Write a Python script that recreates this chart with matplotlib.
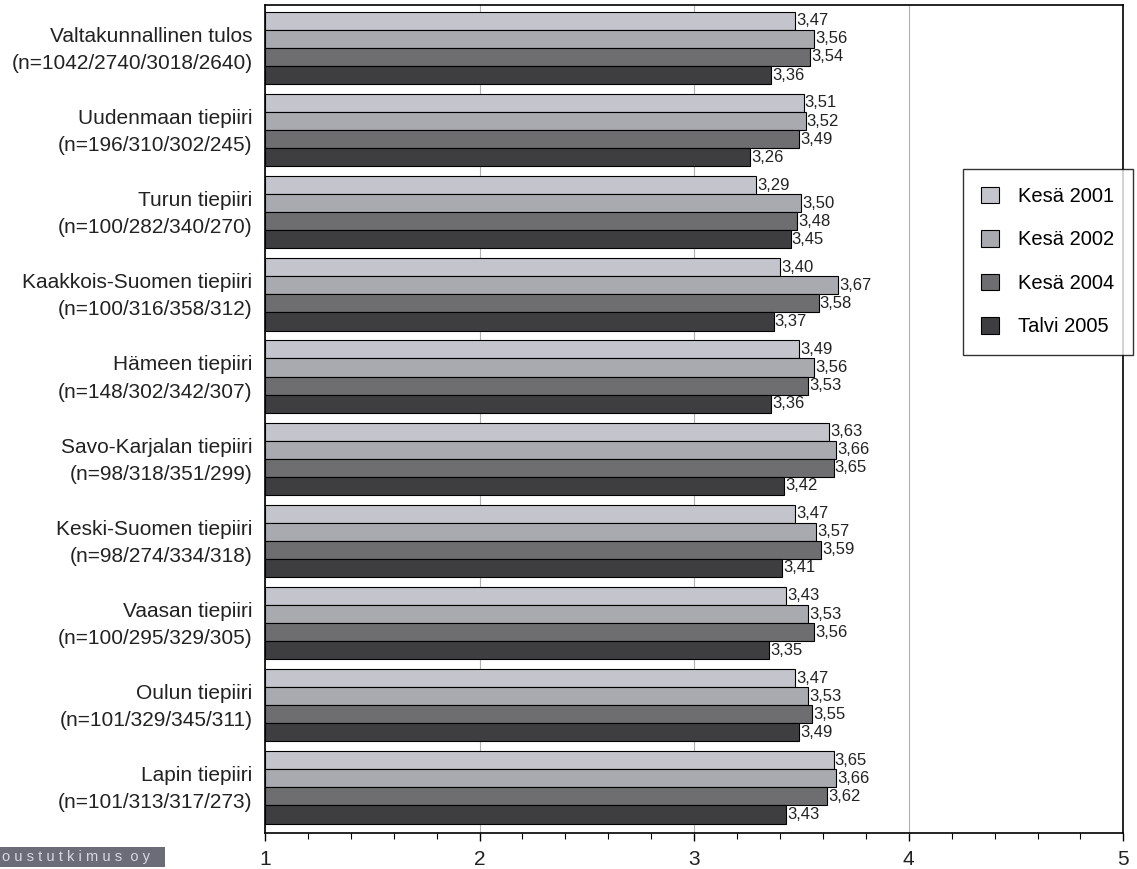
import matplotlib.pyplot as plt
import numpy as np
from matplotlib.ticker import MultipleLocator
from matplotlib.patches import Rectangle
from matplotlib.transforms import ScaledTranslation

plt.rcParams['font.family'] = ['Liberation Sans', 'DejaVu Sans']

## Data
regions = ['Valtakunnallinen tulos\n(n=1042/2740/3018/2640)',
           'Uudenmaan tiepiiri\n(n=196/310/302/245)',
           'Turun tiepiiri\n(n=100/282/340/270)',
           'Kaakkois-Suomen tiepiiri\n(n=100/316/358/312)',
           'Hämeen tiepiiri\n(n=148/302/342/307)',
           'Savo-Karjalan tiepiiri\n(n=98/318/351/299)',
           'Keski-Suomen tiepiiri\n(n=98/274/334/318)',
           'Vaasan tiepiiri\n(n=100/295/329/305)',
           'Oulun tiepiiri\n(n=101/329/345/311)',
           'Lapin tiepiiri\n(n=101/313/317/273)']
series = ['Kesä 2001', 'Kesä 2002', 'Kesä 2004', 'Talvi 2005']
kesa2001 = [3.47, 3.51, 3.29, 3.40, 3.49, 3.63, 3.47, 3.43, 3.47, 3.65]
kesa2002 = [3.56, 3.52, 3.50, 3.67, 3.56, 3.66, 3.57, 3.53, 3.53, 3.66]
kesa2004 = [3.54, 3.49, 3.48, 3.58, 3.53, 3.65, 3.59, 3.56, 3.55, 3.62]
talvi2005 = [3.36, 3.26, 3.45, 3.37, 3.36, 3.42, 3.41, 3.35, 3.49, 3.43]
xticks = [1, 2, 3, 4, 5]
colors = ['#c4c4cc', '#a9a9b0', '#6e6e70', '#3e3e40']

fig = plt.figure(figsize=(11.37, 8.69), dpi=100)
ax = fig.add_axes([0.233, 0.041, 0.755, 0.953])

n = len(regions)
h = 0.22
values = [kesa2001, kesa2002, kesa2004, talvi2005]
for i, (vals, name, c) in enumerate(zip(values, series, colors)):
    y = np.arange(n) + (i - 1.5) * h
    bars = ax.barh(y, np.array(vals) - 1, left=1, height=h, color=c,
                   edgecolor='black', linewidth=0.8, label=name, zorder=3)
    for b, v in zip(bars, vals):
        ax.text(v + 0.005, b.get_y() + h / 2, ('%.2f' % v).replace('.', ','),
                va='center', ha='left', fontsize=12, color='#222222', zorder=4)

ax.set_xlim(1, 5)
ax.set_ylim(n - 0.5 + 0.06, -0.5 - 0.02)
ax.set_yticks(np.arange(n))
ax.set_yticklabels(regions, fontsize=15, linespacing=1.55, color='#222222')
ax.tick_params(axis='y', length=0, pad=9)
# nudge the two-line labels up a little
shift = ScaledTranslation(0, 3 / 72, fig.dpi_scale_trans)
for lbl in ax.get_yticklabels():
    lbl.set_transform(lbl.get_transform() + shift)
ax.set_xticks(xticks)
ax.set_xticklabels([str(t) for t in xticks])
ax.xaxis.set_minor_locator(MultipleLocator(0.2))
ax.tick_params(axis='x', which='major', labelsize=15, length=6, width=1, pad=6,
               labelcolor='#222222')
ax.tick_params(axis='x', which='minor', length=4, width=0.8)
ax.xaxis.grid(True, which='major', color='#b0b0b0', linewidth=0.8, zorder=0)
for s in ax.spines.values():
    s.set_linewidth(1.2)

leg = fig.legend(loc='upper left', bbox_to_anchor=(0.847, 0.806), fontsize=14.5,
                 frameon=True, fancybox=False, edgecolor='black',
                 labelspacing=1.2, handlelength=0.9, handleheight=0.9,
                 borderpad=0.9, handletextpad=0.95, borderaxespad=0)
leg.get_frame().set_linewidth(1.0)

# logo strip, bottom left
fig.patches.append(Rectangle((0, 0.0023), 0.145, 0.023, transform=fig.transFigure,
                             facecolor='#6c6c78', edgecolor='none'))
fig.text(0.002, 0.0138, 'o u s t u t k i m u s  o y', fontsize=10.5,
         color='#d8d8e2', va='center', ha='left')

fig.savefig('out.png', dpi=100)
